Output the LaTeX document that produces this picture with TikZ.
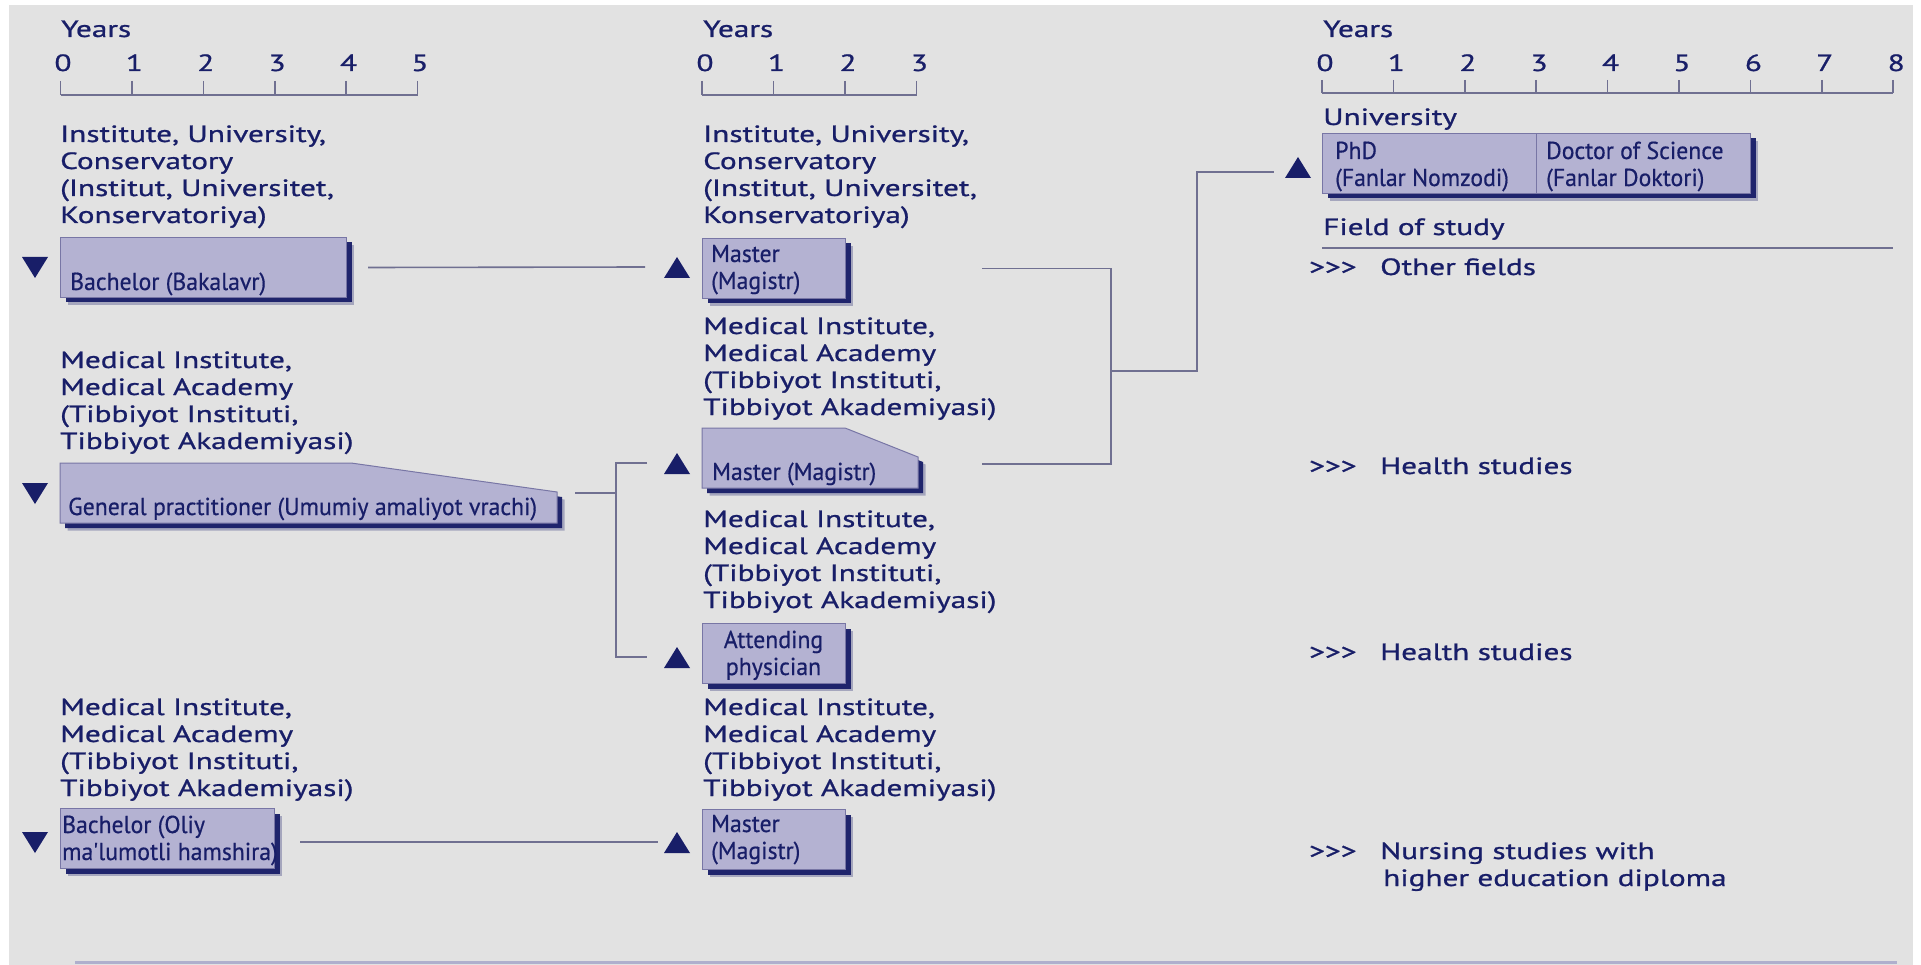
\documentclass[tikz,border=0pt]{standalone}
\usepackage{fontspec}
\setmainfont[FakeStretch=1.33,FakeBold=0.9]{PT Sans}
\newfontfamily\condf[FakeStretch=0.97,FakeBold=0.5]{PT Sans}
\usetikzlibrary{shadows}
\definecolor{navyc}{RGB}{24,30,104}
\definecolor{boxc}{RGB}{180,178,210}
\definecolor{boxedge}{RGB}{120,118,165}
\definecolor{linec}{RGB}{112,112,145}
\definecolor{bgc}{RGB}{226,226,226}
\definecolor{rulec}{RGB}{175,175,205}
\begin{document}
\begin{tikzpicture}[x=1pt,y=-1pt,
  lbl/.style={text=navyc, font=\fontsize{23.5}{27}\selectfont, inner sep=0, align=left, anchor=base west},
  numlbl/.style={text=navyc, font=\fontsize{23.5}{27}\selectfont, inner sep=0, anchor=base},
  blbl/.style={text=navyc, font=\condf\fontsize{24.5}{27}\selectfont, inner sep=0, align=left, anchor=base west},
  box/.style={fill=boxc, draw=boxedge, line width=1pt, inner sep=0, general shadow={shadow xshift=7.5pt, shadow yshift=-7.5pt, fill=navyc, opacity=0.3}, drop shadow={shadow xshift=5pt, shadow yshift=-5pt, fill=navyc, opacity=0.95}},
  conn/.style={draw=linec, line width=1.6pt},
  axisl/.style={draw=linec, line width=1.6pt},
  tri/.style={fill=navyc}
]
\useasboundingbox (0,0) rectangle (1921,965);
\fill[white] (0,0) rectangle (1921,965);
\fill[bgc] (9,5) rectangle (1913,965);
\draw[rulec, line width=3pt] (75,962.5) -- (1897,962.5);

% ---------- axes ----------
\node[lbl] (yl) at (61,37) {Years};
\draw[axisl] (60.5,95) -- (417.5,95);
\foreach \k in {0,...,5} {
  \draw[axisl] (60.5+71.4*\k,81) -- (60.5+71.4*\k,95);
  \node[numlbl] (nl\k) at (63+71.4*\k,71) {\k};
}
\node[lbl] (ym) at (703,37) {Years};
\draw[axisl] (702,95) -- (916.5,95);
\foreach \k in {0,...,3} {
  \draw[axisl] (702+71.5*\k,81) -- (702+71.5*\k,95);
  \node[numlbl] (nm\k) at (705+71.5*\k,71) {\k};
}
\node[lbl] (yr) at (1323,37) {Years};
\draw[axisl] (1322,93) -- (1893,93);
\foreach \k in {0,...,8} {
  \draw[axisl] (1322+71.4*\k,80) -- (1322+71.4*\k,93);
  \node[numlbl] (nr\k) at (1325+71.4*\k,71) {\k};
}

% ---------- left column ----------
\node[lbl] (instL) at (60,223) {Institute, University,\\Conservatory\\(Institut, Universitet,\\Konservatoriya)};
\node[box, minimum width=286pt, minimum height=60pt, anchor=north west] (bach) at (60,237) {};
\node[blbl] (bachT) at (70,290) {Bachelor (Bakalavr)};
\fill[tri] (22,257) -- (48,257) -- (35,278) -- cycle;
\coordinate (dA) at (35,267);

\node[lbl] (medL1) at (60,449) {Medical Institute,\\Medical Academy\\(Tibbiyot Instituti,\\Tibbiyot Akademiyasi)};
\path[box] (60,463) -- (351,463) -- (557,492) -- (557,523) -- (60,523) -- cycle;
\coordinate (gpE) at (557,493);
\node[blbl] (gpT) at (68,515) {General practitioner (Umumiy amaliyot vrachi)};
\fill[tri] (22,483) -- (48,483) -- (35,504) -- cycle;

\node[lbl] (medL2) at (60,796) {Medical Institute,\\Medical Academy\\(Tibbiyot Instituti,\\Tibbiyot Akademiyasi)};
\node[box, minimum width=214pt, minimum height=60pt, anchor=north west] (bachN) at (60,808) {};
\node[blbl] (bachNT) at (62,860) {Bachelor (Oliy\\ma'lumotli hamshira)};
\fill[tri] (22,832) -- (48,832) -- (35,853) -- cycle;

% ---------- middle column ----------
\node[lbl] (instM) at (703,223) {Institute, University,\\Conservatory\\(Institut, Universitet,\\Konservatoriya)};
\node[box, minimum width=143pt, minimum height=60pt, anchor=north west] (mastA) at (702,238) {};
\node[blbl] (mastAT) at (711,289) {Master\\(Magistr)};
\coordinate (tA) at (677,267);
\fill[tri] (664,278) -- (690,278) -- (677,257) -- cycle;

\node[lbl] (medM1) at (703,415) {Medical Institute,\\Medical Academy\\(Tibbiyot Instituti,\\Tibbiyot Akademiyasi)};
\path[box] (702,428) -- (845,428) -- (918,457) -- (918,488) -- (702,488) -- cycle;
\coordinate (mastBE) at (918,464);
\node[blbl] (mastBT) at (712,480) {Master (Magistr)};
\coordinate (tB) at (677,463);
\fill[tri] (664,474) -- (690,474) -- (677,453) -- cycle;

\node[lbl] (medM2) at (703,608) {Medical Institute,\\Medical Academy\\(Tibbiyot Instituti,\\Tibbiyot Akademiyasi)};
\node[box, minimum width=143pt, minimum height=60pt, anchor=north west] (attend) at (702,623) {};
\node[blbl, align=center, anchor=base] (attendT) at (773.5,675) {Attending\\physician};
\coordinate (tC) at (677,657);
\fill[tri] (664,668) -- (690,668) -- (677,647) -- cycle;

\node[lbl] (medM3) at (703,796) {Medical Institute,\\Medical Academy\\(Tibbiyot Instituti,\\Tibbiyot Akademiyasi)};
\node[box, minimum width=143pt, minimum height=60pt, anchor=north west] (mastN) at (702,809) {};
\node[blbl] (mastNT) at (711,859) {Master\\(Magistr)};
\coordinate (tN) at (677,842);
\fill[tri] (664,853) -- (690,853) -- (677,832) -- cycle;

% ---------- right column ----------
\node[lbl] (uni) at (1323,125) {University};
\node[box, minimum width=214pt, minimum height=60pt, anchor=north west] (phd) at (1322,133) {};
\node[box, minimum width=214pt, minimum height=60pt, anchor=north west] (doc) at (1536,133) {};
\node[blbl] (phdT) at (1335,186) {PhD\\(Fanlar Nomzodi)};
\node[blbl] (docT) at (1546,186) {Doctor of Science\\(Fanlar Doktori)};
\coordinate (tP) at (1298,167);
\fill[tri] (1285,178) -- (1311,178) -- (1298,157) -- cycle;
\node[lbl] (field) at (1323,235) {Field of study};
\coordinate (fr0) at (1322,248);
\coordinate (fr1) at (1893,248);
\draw[conn] (fr0) -- (fr1);
\node[lbl] (a1) at (1309,275) {>{}>{}>};
\node[lbl] (of) at (1380,275) {Other fields};
\node[lbl] (a2) at (1309,474) {>{}>{}>};
\node[lbl] (hs1) at (1380,474) {Health studies};
\node[lbl] (a3) at (1309,660) {>{}>{}>};
\node[lbl] (hs2) at (1380,660) {Health studies};
\node[lbl] (a4) at (1309,859) {>{}>{}>};
\node[lbl] (ns) at (1380,886) {Nursing studies with\\\hspace*{3pt}higher education diploma};

% ---------- connectors ----------
\draw[conn] ([xshift=21pt]bach.east) -- ([xshift=-32pt]tA);
\coordinate (brX) at (616,0);
\draw[conn] ([xshift=18pt]gpE) -- (gpE -| brX);
\draw[conn] ([xshift=-30pt]tB) -- (tB -| brX) -- (tC -| brX) -- ([xshift=-30pt]tC);
\coordinate (nL) at (bachN.east |- tN);
\draw[conn] ([xshift=25pt]nL) -- ([xshift=-19pt]tN);
\coordinate (j1) at (1111,371);
\coordinate (j2) at (1197,371);
\coordinate (pL) at (1274,172);
\draw[conn] ([xshift=136pt]mastA.east) -| (j1) |- ([xshift=64pt]mastBE);
\draw[conn] (j1) -- (j2) |- (pL);
\end{tikzpicture}
\end{document}
